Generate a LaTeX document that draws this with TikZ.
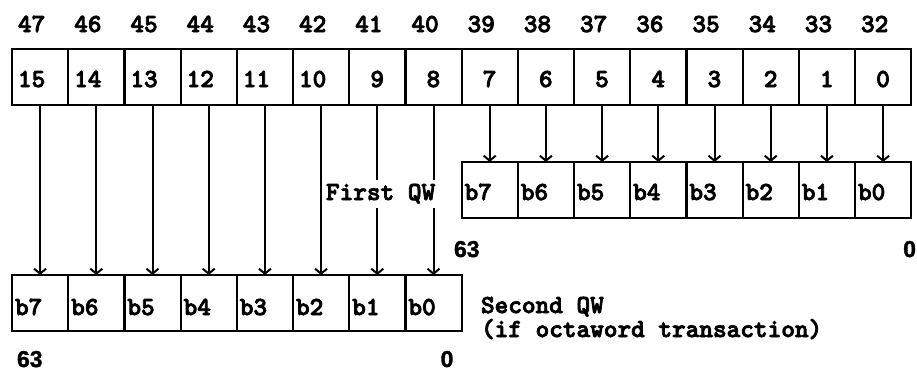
\documentclass[tikz,border=0pt]{standalone}
\usepackage{fontspec}
\usetikzlibrary{arrows.meta}
\newfontfamily\hvbold{Liberation Sans}[UprightFont={* Bold}, FakeBold=1.5]
\newfontfamily\ttboldfont{lmmonolt10-bold.otf}[FakeBold=3]

\tikzset{
  cell/.style={draw, line width=2.2pt, minimum width=56.2pt, minimum height=56pt,
               inner sep=0pt, outer sep=0pt, anchor=north west},
  ttlabel/.style={font=\fontsize{26}{30}\selectfont\ttboldfont,
                  inner sep=0pt, outer sep=0pt},
  sflabel/.style={font=\fontsize{23}{27}\selectfont\hvbold,
                  inner sep=0pt, outer sep=0pt},
  arr/.style={line width=2pt, -{Straight Barb[length=5pt,width=12pt]}}
}

\begin{document}
\begin{tikzpicture}[x=1pt, y=-1pt]
  \fill[white] (0,0) rectangle (917,370);
  \useasboundingbox (0,0) rectangle (917,370);

  % source register: byte lanes 15..0, bit numbers 47..32 above
  \foreach \n [count=\i from 0] in {15,14,...,0} {
    \node[cell] (t\n) at ({12+56.2*\i},49) {};
    \pgfmathtruncatemacro\bitno{\n+32}
    \node[ttlabel, anchor=base west] (tn\n) at ({18+56.2*\i},32) {\bitno};
    \ifnum\n>9
      \node[ttlabel, anchor=base west] (tl\n) at ({18+56.2*\i},87) {\n};
    \else
      \node[ttlabel, anchor=base] (tl\n) at ({40+56.2*\i},87) {\n};
    \fi
  }

  % first quadword (upper right)
  \foreach \b [count=\j from 8] in {7,6,...,0} {
    \node[cell] (u\b) at ({12+56.2*\j},162) {};
    \node[ttlabel, anchor=base west] (ul\b) at ({15+56.2*\j},200) {b\b};
  }

  % second quadword (lower left)
  \foreach \b [count=\j from 0] in {7,6,...,0} {
    \node[cell] (l\b) at ({12+56.2*\j},275) {};
    \node[ttlabel, anchor=base west] (ll\b) at ({15+56.2*\j},315) {b\b};
  }

  % byte lanes 7..0 feed the first quadword
  \foreach \n in {7,6,...,0}
    \draw[arr] (t\n.south) -- (u\n.north);

  % byte lanes 15..8 feed the second quadword
  \foreach \n in {15,14,...,8} {
    \pgfmathtruncatemacro\k{\n-8}
    \draw[arr] (t\n.south) -- (l\k.north);
  }

  % captions
  \node[ttlabel, fill=white, inner xsep=1pt, inner ysep=4pt, anchor=base west]
    (fqw) at (325,200) {First QW};
  \node[ttlabel, anchor=base west] (sqw) at (481,313) {Second QW};
  \node[ttlabel, anchor=base west] (oct) at (481,337) {(if octaword transaction)};

  % bit range markers
  \node[sflabel, anchor=base west] (u63) at (454,257) {63};
  \node[sflabel, anchor=base east] (u0)  at (916,257) {0};
  \node[sflabel, anchor=base west] (l63) at (17,367) {63};
  \node[sflabel, anchor=base]      (l0)  at (447,367) {0};
\end{tikzpicture}
\end{document}
